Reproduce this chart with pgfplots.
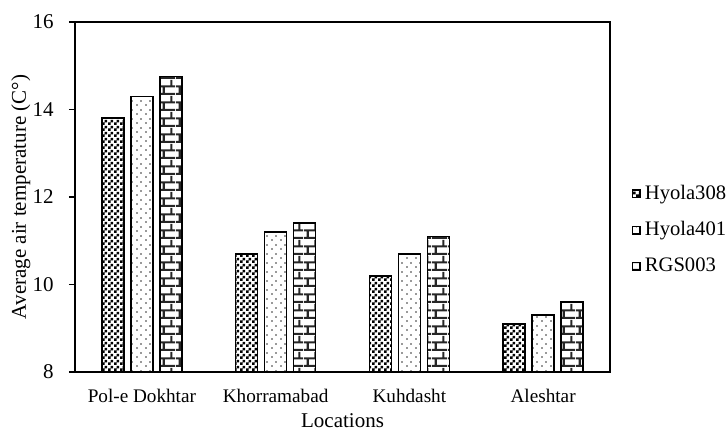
\documentclass[border=0pt]{standalone}
\usepackage{fontspec}
\setmainfont{Liberation Serif}
\usepackage{pgfplots}
\pgfplotsset{compat=1.18}
\usetikzlibrary{patterns,patterns.meta}

\pgfdeclarepattern{
  name=mycheck,
  type=uncolored,
  bottom left={\pgfpoint{0pt}{0pt}},
  top right={\pgfpoint{3pt}{3pt}},
  tile size={\pgfpoint{3pt}{3pt}},
  code={
    \pgfpathrectangle{\pgfpoint{0pt}{0pt}}{\pgfpoint{1.5pt}{1.5pt}}
    \pgfpathrectangle{\pgfpoint{1.5pt}{1.5pt}}{\pgfpoint{1.5pt}{1.5pt}}
    \pgfusepath{fill}
  }
}
\pgfdeclarepattern{
  name=mydots,
  type=uncolored,
  bottom left={\pgfpoint{0pt}{0pt}},
  top right={\pgfpoint{4.5pt}{4.5pt}},
  tile size={\pgfpoint{4.5pt}{4.5pt}},
  code={
    \pgfpathcircle{\pgfpoint{1.1pt}{1.1pt}}{0.5pt}
    \pgfpathcircle{\pgfpoint{3.35pt}{3.35pt}}{0.5pt}
    \pgfusepath{fill}
  }
}
\pgfdeclarepattern{
  name=mybricks,
  type=uncolored,
  bottom left={\pgfpoint{0pt}{0pt}},
  top right={\pgfpoint{8pt}{8pt}},
  tile size={\pgfpoint{8pt}{8pt}},
  code={
    \pgfsetlinewidth{1.1pt}
    \pgfpathmoveto{\pgfpoint{0pt}{0.55pt}}\pgfpathlineto{\pgfpoint{8pt}{0.55pt}}
    \pgfpathmoveto{\pgfpoint{0pt}{4.55pt}}\pgfpathlineto{\pgfpoint{8pt}{4.55pt}}
    \pgfpathmoveto{\pgfpoint{2pt}{0.55pt}}\pgfpathlineto{\pgfpoint{2pt}{4.55pt}}
    \pgfpathmoveto{\pgfpoint{6pt}{4.55pt}}\pgfpathlineto{\pgfpoint{6pt}{8pt}}
    \pgfpathmoveto{\pgfpoint{6pt}{0pt}}\pgfpathlineto{\pgfpoint{6pt}{0.55pt}}
    \pgfusepath{stroke}
  }
}

\begin{document}
\fontsize{10.5}{12}\selectfont
\begin{tikzpicture}
\begin{axis}[
  scale only axis,
  width=267.5pt, height=175pt,
  xmin=-0.5, xmax=3.5,
  ymin=8, ymax=16,
  ytick={8,10,12,14,16},
  xtick={0,1,2,3},
  xticklabels={Pol-e Dokhtar, Khorramabad, Kuhdasht, Aleshtar},
  x tick style={draw=none},
  ytick pos=left,
  tick align=outside,
  major tick length=3pt,
  axis line style={line width=0.7pt},
  every tick/.style={line width=0.6pt, black},
  /pgf/number format/assume math mode=true,
  yticklabel style={font=\fontsize{10.5}{12}\selectfont, xshift=-4pt},
  xticklabel style={font=\fontsize{9.6}{11}\selectfont, yshift=-2pt},
  label style={font=\fontsize{10.8}{12}\selectfont},
  ylabel={Average air temperature (C\textdegree)},
  xlabel={Locations},
  every axis y label/.style={at={(axis description cs:-0.101,0.5)}, rotate=90, anchor=center},
  every axis x label/.style={at={(axis description cs:0.5,-0.14)}, anchor=center},
  ybar,
  bar width=0.165,
  legend style={draw=none, fill=none, inner sep=0pt, at={(1.040,0.406)}, anchor=west,
    font=\fontsize{10.3}{12}\selectfont, row sep=5.5pt},
  legend cell align=left,
  legend image code/.code={\draw[#1, line width=0.75pt] (0.2pt,-1.9pt) rectangle (4pt,1.9pt);},
]
\addplot[bar shift=-0.217, draw=black, line width=0.8pt, pattern=mycheck, pattern color=black]
  coordinates {(0,13.8) (1,10.7) (2,10.2) (3,9.1)};
\addplot[bar shift=0, draw=black, line width=0.8pt, pattern=mydots, pattern color=black!80]
  coordinates {(0,14.3) (1,11.2) (2,10.7) (3,9.3)};
\addplot[bar shift=0.217, draw=black, line width=0.8pt, pattern=mybricks, pattern color=black!85]
  coordinates {(0,14.75) (1,11.4) (2,11.1) (3,9.6)};
\legend{Hyola308, Hyola401, RGS003}
\end{axis}
\pgfresetboundingbox
\path (current axis.south west) ++(-37.5pt,-29pt) rectangle ([shift={(59pt,11pt)}]current axis.north east);
\end{tikzpicture}
\end{document}
